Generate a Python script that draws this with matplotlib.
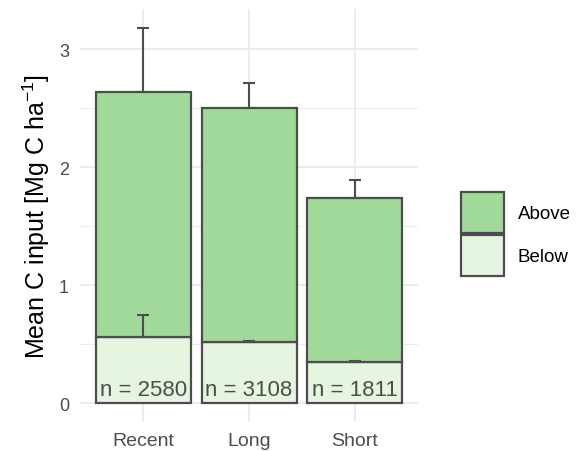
import matplotlib.pyplot as plt
from matplotlib.patches import Patch

plt.rcParams['font.family'] = ['Liberation Sans', 'DejaVu Sans']
plt.rcParams['mathtext.default'] = 'regular'

# Mean C input per group, split into below- and above-ground parts
groups = ['Recent', 'Long', 'Short']
below = [0.56, 0.515, 0.345]
above_total = [2.635, 2.50, 1.735]
below_err = [0.19, 0.015, 0.012]
above_err = [0.545, 0.21, 0.16]
n_obs = [2580, 3108, 1811]

col_above = '#a1d99b'
col_below = '#e5f5e0'
edge = '#4d4d4d'

fig = plt.figure(figsize=(5.8, 4.52), dpi=100)
ax = fig.add_axes([0.138, 0.064, 0.583, 0.914])

x = list(range(len(groups)))
above = [t - b for t, b in zip(above_total, below)]

ax.bar(x, below, width=0.9, color=col_below, edgecolor=edge, linewidth=1.6, zorder=3)
ax.bar(x, above, bottom=below, width=0.9, color=col_above, edgecolor=edge, linewidth=1.6, zorder=3)

# upward-only error bars at the top of each stack segment
ax.errorbar(x, below, yerr=[[0] * 3, below_err], fmt='none', ecolor=edge,
            elinewidth=1.5, capsize=4, capthick=1.5, zorder=4)
ax.errorbar(x, above_total, yerr=[[0] * 3, above_err], fmt='none', ecolor=edge,
            elinewidth=1.5, capsize=4, capthick=1.5, zorder=4)

for xi, n in zip(x, n_obs):
    ax.text(xi, 0.12, f'n = {n}', ha='center', va='center', fontsize=16,
            color=edge, zorder=5)

ax.set_xlim(-0.6, 2.6)
ax.set_ylim(-0.16, 3.34)
ax.set_xticks(x)
ax.set_xticklabels(groups)
ax.set_yticks([0, 1, 2, 3])
ax.set_yticks([0.5, 1.5, 2.5], minor=True)
ax.tick_params(axis='both', which='both', length=0, colors='#4d4d4d')
ax.tick_params(axis='y', labelsize=13, pad=8)
ax.tick_params(axis='x', labelsize=14, pad=7)
ax.grid(True, which='major', color='#ebebeb', linewidth=1.3, zorder=0)
ax.grid(True, which='minor', axis='y', color='#ebebeb', linewidth=0.7, zorder=0)
for s in ax.spines.values():
    s.set_visible(False)
ax.set_ylabel('Mean C input [Mg C ha$^{-1}$]', fontsize=18, color='black', labelpad=5)

handles = [Patch(facecolor=col_above, edgecolor=edge, linewidth=1.6, label='Above'),
           Patch(facecolor=col_below, edgecolor=edge, linewidth=1.6, label='Below')]
fig.legend(handles=handles, loc='center left', bbox_to_anchor=(0.782, 0.48),
           frameon=False, fontsize=13.5, handlelength=2.28, handleheight=2.98,
           labelspacing=0.1, handletextpad=0.75, borderaxespad=0)

fig.savefig('out.png', dpi=100)
